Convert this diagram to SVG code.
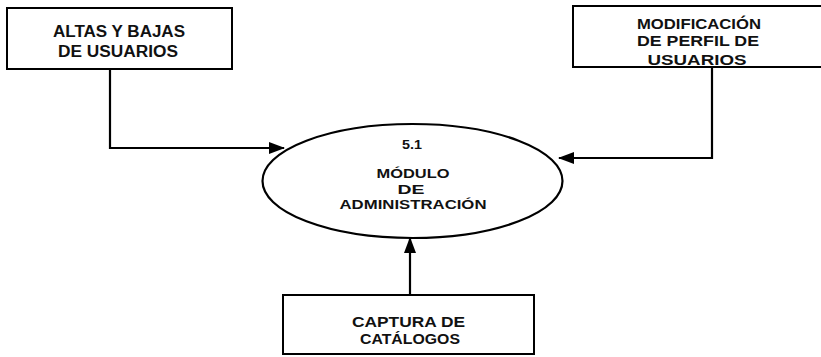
<svg xmlns="http://www.w3.org/2000/svg" width="821" height="357" viewBox="0 0 821 357">
<style>
.box{fill:#fff;stroke:#000;stroke-width:2}
.t{font-family:"Liberation Sans",Arial,sans-serif;font-weight:bold;font-size:15px;fill:#111;text-anchor:middle}
.b1{font-size:16px}
.e{font-size:13.5px}
.c{fill:none;stroke:#000;stroke-width:2.2}
</style>
<defs>
<marker id="ah" viewBox="0 0 16 12" refX="15" refY="6" markerWidth="16" markerHeight="12" markerUnits="userSpaceOnUse" orient="auto">
<path d="M0,0 L16,6 L0,12 Z" fill="#000"/>
</marker>
</defs>
<g id="connectors">
<path class="c" d="M110,69 V148 H284" marker-end="url(#ah)"/>
<path class="c" d="M712,67 V158 H559" marker-end="url(#ah)"/>
<path class="c" d="M410,295 V238" marker-end="url(#ah)"/>
</g>
<g id="altas">
<rect class="box" x="7" y="8" width="225" height="61"/>
<text class="t b1" x="119" y="37" textLength="132" lengthAdjust="spacingAndGlyphs">ALTAS Y BAJAS</text>
<text class="t b1" x="118" y="57" textLength="120" lengthAdjust="spacingAndGlyphs">DE USUARIOS</text>
</g>
<g id="modificacion">
<text class="t" x="699" y="29" textLength="124" lengthAdjust="spacingAndGlyphs">MODIFICACIÓN</text>
<text class="t" x="698" y="46" textLength="122" lengthAdjust="spacingAndGlyphs">DE PERFIL DE</text>
<text class="t" x="697" y="65" textLength="99" lengthAdjust="spacingAndGlyphs">USUARIOS</text>
<path fill="none" stroke="#000" stroke-width="2" d="M830,6 H573 V67 H830"/>
</g>
<g id="modulo">
<ellipse cx="412.5" cy="181" rx="150" ry="57" fill="none" stroke="#000" stroke-width="2.2"/>
<text class="t e" x="412" y="149" textLength="20" lengthAdjust="spacingAndGlyphs">5.1</text>
<text class="t e" x="413" y="178" textLength="73" lengthAdjust="spacingAndGlyphs">MÓDULO</text>
<text class="t e" x="411" y="193.5" textLength="27" lengthAdjust="spacingAndGlyphs">DE</text>
<text class="t e" x="413" y="209" textLength="147" lengthAdjust="spacingAndGlyphs">ADMINISTRACIÓN</text>
</g>
<g id="captura">
<rect class="box" x="283" y="295" width="251" height="59"/>
<text class="t" x="408.5" y="327" textLength="113" lengthAdjust="spacingAndGlyphs">CAPTURA DE</text>
<text class="t" x="410" y="344" textLength="100" lengthAdjust="spacingAndGlyphs">CATÁLOGOS</text>
</g>
</svg>
